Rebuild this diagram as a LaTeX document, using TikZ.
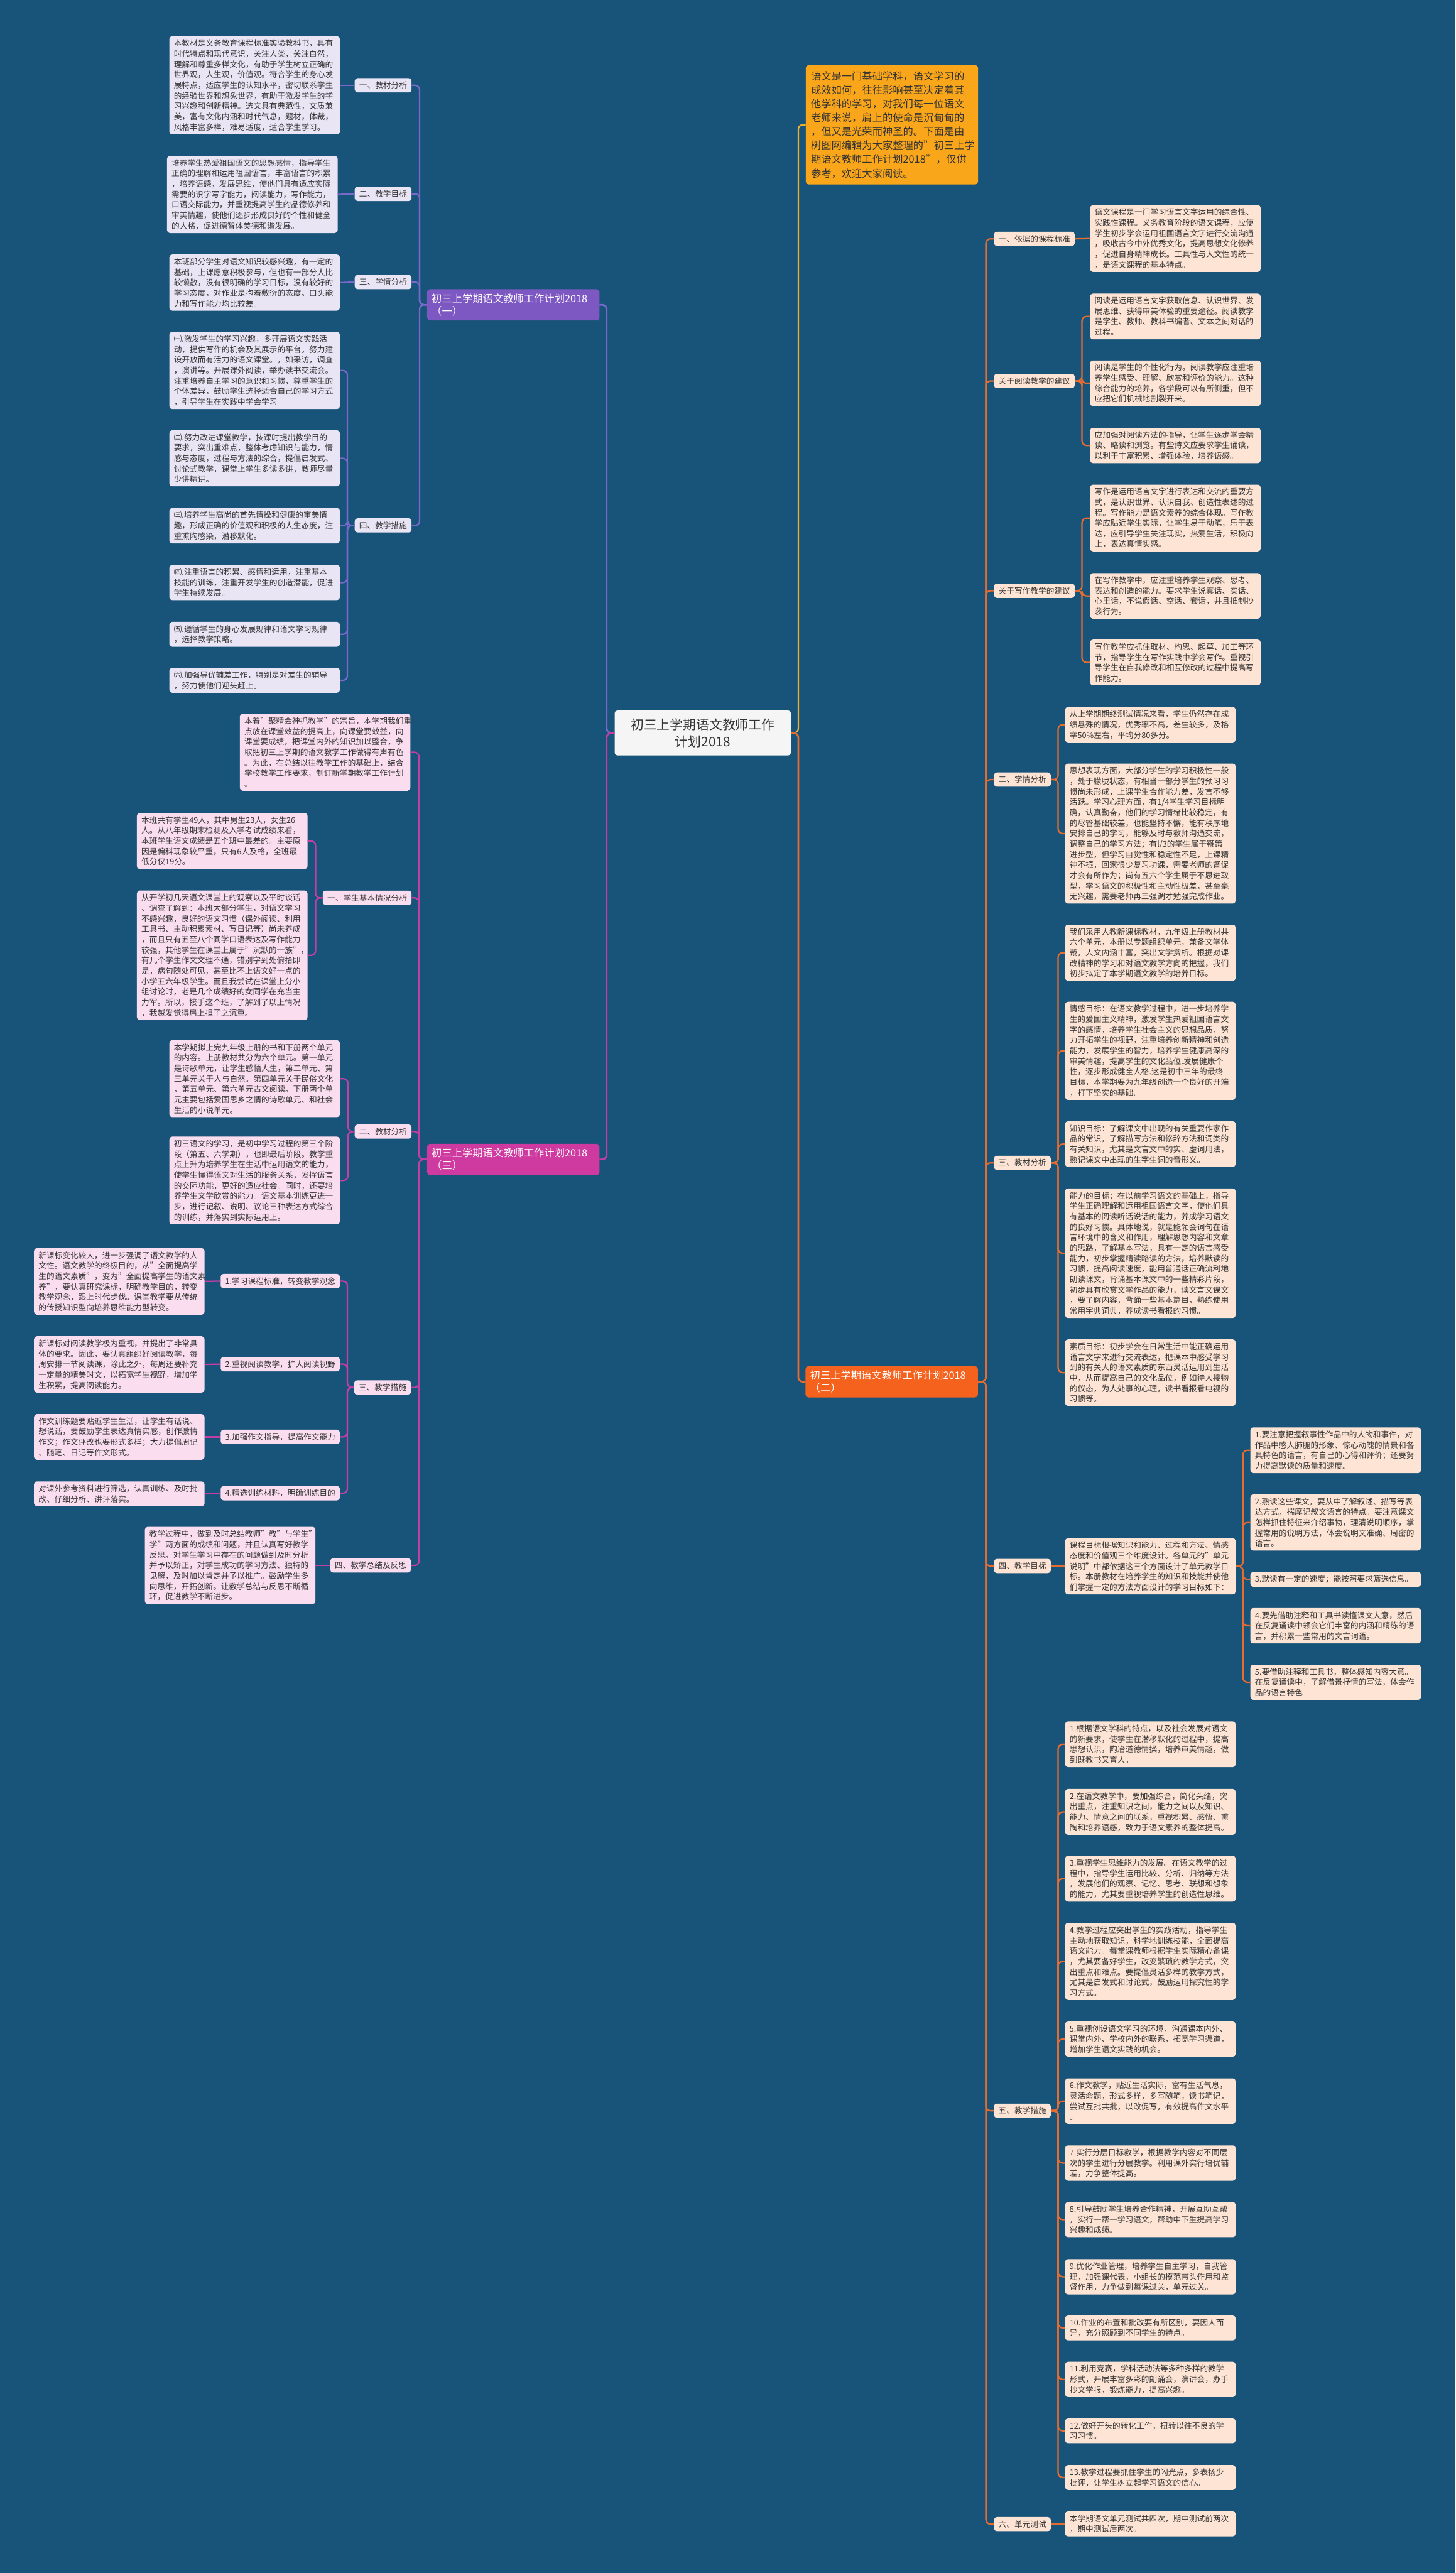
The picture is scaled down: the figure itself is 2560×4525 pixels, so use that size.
\documentclass[tikz,border=0pt]{standalone}
\usepackage{fontspec}
\setmainfont{Noto Sans CJK SC}
\usetikzlibrary{positioning}
\definecolor{bgblue}{RGB}{24,83,121}
\definecolor{inktext}{RGB}{51,51,51}
\definecolor{rootfill}{RGB}{245,245,245}
\definecolor{introfill}{RGB}{250,166,26}
\definecolor{introline}{RGB}{238,178,50}
\definecolor{lilacfill}{RGB}{233,229,245}
\definecolor{lilacline}{RGB}{122,104,204}
\definecolor{lilachead}{RGB}{126,88,194}
\definecolor{pinkfill}{RGB}{250,222,240}
\definecolor{pinkline}{RGB}{196,62,166}
\definecolor{pinkhead}{RGB}{206,58,160}
\definecolor{peachfill}{RGB}{254,228,212}
\definecolor{peachline}{RGB}{232,108,46}
\definecolor{peachhead}{RGB}{244,98,30}

\begin{document}
\begin{tikzpicture}[x=1pt, y=-1pt,
    box/.style={rounded corners=5pt, inner xsep=8pt, inner ysep=6pt, text=inktext,
      font=\fontsize{14}{18.4}\selectfont, align=left},
    sub/.style={box},
    leaf/.style={box, text width=284pt},
    head/.style={rounded corners=5pt, inner xsep=8pt, inner ysep=8pt, text=white,
      font=\fontsize{18}{22}\selectfont, align=left, text width=287pt},
    lilac/.style={fill=lilacfill},
    pinkish/.style={fill=pinkfill},
    peach/.style={fill=peachfill},
    link/.style={line width=2.5pt, rounded corners=8pt},
    plink/.style={link, draw=lilacline},
    mlink/.style={link, draw=pinkline},
    olink/.style={link, draw=peachline},
  ]
  \useasboundingbox (0,0) rectangle (2560,4525);
  \fill[bgblue] (0,0) rectangle (2560,4525);

  \node[rounded corners=5pt, fill=rootfill, text=inktext, text width=290pt, inner xsep=10pt,
    inner ysep=14pt, align=center, font=\fontsize{23}{30}\selectfont] (root) at (1236,1289)
    {初三上学期语文教师工作\\计划2018};
  \node[rounded corners=5pt, fill=introfill, text=inktext, text width=285pt, inner xsep=9pt,
    inner ysep=11pt, align=left, font=\fontsize{18}{24.4}\selectfont, anchor=west] (intro) at (1417,219.5)
    {语文是一门基础学科，语文学习的\\成效如何，往往影响甚至决定着其\\他学科的学习，对我们每一位语文\\老师来说，肩上的使命是沉甸甸的\\，但又是光荣而神圣的。下面是由\\树图网编辑为大家整理的"初三上学\\期语文教师工作计划2018"，仅供\\参考，欢迎大家阅读。};

  \node[head, fill=lilachead, anchor=west] (planA) at (751,536) {初三上学期语文教师工作计划2018\\（一）};
  \node[head, fill=pinkhead, anchor=west] (planC) at (751,2039) {初三上学期语文教师工作计划2018\\（三）};
  \node[head, fill=peachhead, anchor=east] (planB) at (1720,2430) {初三上学期语文教师工作计划2018\\（二）};

  \coordinate (xL) at (1067,0);
  \coordinate (xR) at (1404,0);
  \draw[link, draw=introline] (root.east) -- (root.east -| xR) |- (intro.west);
  \draw[olink, line width=3pt] (root.east) -- (root.east -| xR) |- (planB.west);
  \draw[plink, line width=3pt] (root.west) -- (root.west -| xL) |- (planA.east);
  \draw[mlink, line width=3pt] (root.west) -- (root.west -| xL) |- (planC.east);

  % (一)
  \node[sub, lilac, anchor=east] (a1) at (724,150) {一、教材分析};
  \node[sub, lilac, anchor=east] (a2) at (724,341) {二、教学目标};
  \node[sub, lilac, anchor=east] (a3) at (724,496) {三、学情分析};
  \node[sub, lilac, anchor=east] (a4) at (724,924) {四、教学措施};
  \node[leaf, lilac, anchor=east] (a1t) at (598,150) {本教材是义务教育课程标准实验教科书，具有\\时代特点和现代意识，关注人类，关注自然，\\理解和尊重多样文化，有助于学生树立正确的\\世界观，人生观，价值观。符合学生的身心发\\展特点，适应学生的认知水平，密切联系学生\\的经验世界和想象世界，有助于激发学生的学\\习兴趣和创新精神。选文具有典范性，文质兼\\美，富有文化内涵和时代气息，题材，体裁，\\风格丰富多样，难易适度，适合学生学习。};
  \node[leaf, lilac, anchor=east] (a2t) at (594,342) {培养学生热爱祖国语文的思想感情，指导学生\\正确的理解和运用祖国语言，丰富语言的积累\\，培养语感，发展思维，使他们具有适应实际\\需要的识字写字能力，阅读能力，写作能力，\\口语交际能力，并重视提高学生的品德修养和\\审美情趣，使他们逐步形成良好的个性和健全\\的人格，促进德智体美德和谐发展。};
  \node[leaf, lilac, anchor=east] (a3t) at (598,497) {本班部分学生对语文知识较感兴趣，有一定的\\基础，上课愿意积极参与，但也有一部分人比\\较懒散，没有很明确的学习目标，没有较好的\\学习态度，对作业是抱着敷衍的态度。口头能\\力和写作能力均比较差。};
  \node[leaf, lilac, anchor=east] (a4t1) at (598,651.5) {㈠.激发学生的学习兴趣，多开展语文实践活\\动，提供写作的机会及其展示的平台。努力建\\设开放而有活力的语文课堂。，如采访，调查\\，演讲等。开展课外阅读，举办读书交流会。\\注重培养自主学习的意识和习惯，尊重学生的\\个体差异，鼓励学生选择适合自己的学习方式\\，引导学生在实践中学会学习};
  \node[leaf, lilac, anchor=east] (a4t2) at (598,806) {㈡.努力改进课堂教学，按课时提出教学目的\\要求，突出重难点，整体考虑知识与能力，情\\感与态度，过程与方法的综合，提倡启发式、\\讨论式教学，课堂上学生多读多讲，教师尽量\\少讲精讲。};
  \node[leaf, lilac, anchor=east] (a4t3) at (598,924.5) {㈢.培养学生高尚的首先情操和健康的审美情\\趣，形成正确的价值观和积极的人生态度，注\\重熏陶感染，潜移默化。};
  \node[leaf, lilac, anchor=east] (a4t4) at (598,1024.5) {㈣.注重语言的积累、感情和运用，注重基本\\技能的训练，注重开发学生的创造潜能，促进\\学生持续发展。};
  \node[leaf, lilac, anchor=east] (a4t5) at (598,1115.5) {㈤.遵循学生的身心发展规律和语文学习规律\\，选择教学策略。};
  \node[leaf, lilac, anchor=east] (a4t6) at (598,1196.5) {㈥.加强导优辅差工作，特别是对差生的辅导\\，努力使他们迎头赶上。};

  \coordinate (xA) at (738,0);
  \coordinate (xA4) at (611,0);
  \foreach \c in {a1,a2,a3,a4}
    \draw[plink] (planA.west) -- (planA.west -| xA) |- (\c.east);
  \draw[plink] (a1.west) -- (a1t.east);
  \draw[plink] (a2.west) -- (a2t.east);
  \draw[plink] (a3.west) -- (a3t.east);
  \foreach \c in {a4t1,a4t2,a4t3,a4t4,a4t5,a4t6}
    \draw[plink] (a4.west) -- (a4.west -| xA4) |- (\c.east);

  % (三)
  \node[leaf, pinkish, anchor=east] (c0) at (722,1323) {本着"聚精会神抓教学"的宗旨，本学期我们重\\点放在课堂效益的提高上，向课堂要效益，向\\课堂要成绩，把课堂内外的知识加以整合，争\\取把初三上学期的语文教学工作做得有声有色\\。为此，在总结以往教学工作的基础上，结合\\学校教学工作要求，制订新学期教学工作计划\\。};
  \node[sub, pinkish, anchor=east] (c1) at (724,1579) {一、学生基本情况分析};
  \node[leaf, pinkish, anchor=east] (c1t1) at (541,1479) {本班共有学生49人，其中男生23人，女生26\\人。从八年级期末检测及入学考试成绩来看，\\本班学生语文成绩是五个班中最差的。主要原\\因是偏科现象较严重，只有6人及格，全班最\\低分仅19分。};
  \node[leaf, pinkish, anchor=east] (c1t2) at (541,1680) {从开学初几天语文课堂上的观察以及平时谈话\\、调查了解到：本班大部分学生，对语文学习\\不感兴趣，良好的语文习惯（课外阅读、利用\\工具书、主动积累素材、写日记等）尚未养成\\，而且只有五至八个同学口语表达及写作能力\\较强，其他学生在课堂上属于"沉默的一族"，\\有几个学生作文文理不通，错别字到处俯拾即\\是，病句随处可见，甚至比不上语文好一点的\\小学五六年级学生。而且我尝试在课堂上分小\\组讨论时，老是几个成绩好的女同学在充当主\\力军。所以，接手这个班，了解到了以上情况\\，我越发觉得肩上担子之沉重。};
  \node[sub, pinkish, anchor=east] (c2) at (724,1990) {二、教材分析};
  \node[leaf, pinkish, anchor=east] (c2t1) at (598,1897) {本学期拟上完九年级上册的书和下册两个单元\\的内容。上册教材共分为六个单元。第一单元\\是诗歌单元，让学生感悟人生，第二单元、第\\三单元关于人与自然。第四单元关于民俗文化\\，第五单元、第六单元古文阅读。下册两个单\\元主要包括爱国思乡之情的诗歌单元、和社会\\生活的小说单元。};
  \node[leaf, pinkish, anchor=east] (c2t2) at (598,2076) {初三语文的学习，是初中学习过程的第三个阶\\段（第五、六学期），也即最后阶段。教学重\\点上升为培养学生在生活中运用语文的能力，\\使学生懂得语文对生活的服务关系，发挥语言\\的交际功能，更好的适应社会。同时，还要培\\养学生文学欣赏的能力。语文基本训练更进一\\步，进行记叙、说明、议论三种表达方式综合\\的训练，并落实到实际运用上。};
  \node[sub, pinkish, anchor=east] (c3) at (723,2440) {三、教学措施};
  \node[sub, pinkish, anchor=east] (c3s1) at (598,2253) {1.学习课程标准，转变教学观念};
  \node[sub, pinkish, anchor=east] (c3s2) at (598,2399) {2.重视阅读教学，扩大阅读视野};
  \node[sub, pinkish, anchor=east] (c3s3) at (598,2527) {3.加强作文指导，提高作文能力};
  \node[sub, pinkish, anchor=east] (c3s4) at (598,2626) {4.精选训练材料，明确训练目的};
  \node[leaf, pinkish, anchor=east] (c3t1) at (360,2253.5) {新课标变化较大，进一步强调了语文教学的人\\文性。语文教学的终极目的，从"全面提高学\\生的语文素质"，变为"全面提高学生的语文素\\养"，要认真研究课标，明确教学目的，转变\\教学观念，跟上时代步伐。课堂教学要从传统\\的传授知识型向培养思维能力型转变。};
  \node[leaf, pinkish, anchor=east] (c3t2) at (360,2399.5) {新课标对阅读教学极为重视，并提出了非常具\\体的要求。因此，要认真组织好阅读教学，每\\周安排一节阅读课，除此之外，每周还要补充\\一定量的精美时文，以拓宽学生视野，增加学\\生积累，提高阅读能力。};
  \node[leaf, pinkish, anchor=east] (c3t3) at (360,2527) {作文训练题要贴近学生生活，让学生有话说、\\想说话，要鼓励学生表达真情实感，创作激情\\作文；作文评改也要形式多样；大力提倡周记\\、随笔、日记等作文形式。};
  \node[leaf, pinkish, anchor=east] (c3t4) at (360,2627) {对课外参考资料进行筛选，认真训练、及时批\\改、仔细分析、讲评落实。};
  \node[sub, pinkish, anchor=east] (c4) at (723,2753) {四、教学总结及反思};
  \node[leaf, pinkish, anchor=east] (c4t) at (555,2753) {教学过程中，做到及时总结教师"教"与学生"\\学"两方面的成绩和问题，并且认真写好教学\\反思。对学生学习中存在的问题做到及时分析\\并予以矫正，对学生成功的学习方法、独特的\\见解，及时加以肯定并予以推广。鼓励学生多\\向思维，开拓创新。让教学总结与反思不断循\\环，促进教学不断进步。};

  \coordinate (xC) at (737,0);
  \coordinate (xC1) at (555,0);
  \coordinate (xC2) at (612,0);
  \coordinate (xC3) at (611,0);
  \foreach \c in {c0,c1,c2,c3,c4}
    \draw[mlink] (planC.west) -- (planC.west -| xC) |- (\c.east);
  \foreach \c in {c1t1,c1t2}
    \draw[mlink] (c1.west) -- (c1.west -| xC1) |- (\c.east);
  \foreach \c in {c2t1,c2t2}
    \draw[mlink] (c2.west) -- (c2.west -| xC2) |- (\c.east);
  \foreach \c in {c3s1,c3s2,c3s3,c3s4}
    \draw[mlink] (c3.west) -- (c3.west -| xC3) |- (\c.east);
  \foreach \i in {1,2,3,4}
    \draw[mlink] (c3s\i.west) -- (c3t\i.east);
  \draw[mlink] (c4.west) -- (c4t.east);

  % (二)
  \node[sub, peach, anchor=west] (b1) at (1748,420) {一、依据的课程标准};
  \node[sub, peach, anchor=west] (b2) at (1748,670) {关于阅读教学的建议};
  \node[sub, peach, anchor=west] (b3) at (1748,1039) {关于写作教学的建议};
  \node[sub, peach, anchor=west] (b4) at (1748,1371) {二、学情分析};
  \node[sub, peach, anchor=west] (b5) at (1748,2045) {三、教材分析};
  \node[sub, peach, anchor=west] (b6) at (1748,2754) {四、教学目标};
  \node[sub, peach, anchor=west] (b7) at (1748,3712) {五、教学措施};
  \node[sub, peach, anchor=west] (b8) at (1748,4439) {六、单元测试};

  \node[leaf, peach, anchor=west] (b1t) at (1917,419.5) {语文课程是一门学习语言文字运用的综合性、\\实践性课程。义务教育阶段的语文课程，应使\\学生初步学会运用祖国语言文字进行交流沟通\\，吸收古今中外优秀文化，提高思想文化修养\\，促进自身精神成长。工具性与人文性的统一\\，是语文课程的基本特点。};
  \node[leaf, peach, anchor=west] (b2t1) at (1917,556.5) {阅读是运用语言文字获取信息、认识世界、发\\展思维、获得审美体验的重要途径。阅读教学\\是学生、教师、教科书编者、文本之间对话的\\过程。};
  \node[leaf, peach, anchor=west] (b2t2) at (1917,674) {阅读是学生的个性化行为。阅读教学应注重培\\养学生感受、理解、欣赏和评价的能力。这种\\综合能力的培养，各学段可以有所侧重，但不\\应把它们机械地割裂开来。};
  \node[leaf, peach, anchor=west] (b2t3) at (1917,783.5) {应加强对阅读方法的指导，让学生逐步学会精\\读、略读和浏览。有些诗文应要求学生诵读，\\以利于丰富积累、增强体验，培养语感。};
  \node[leaf, peach, anchor=west] (b3t1) at (1917,911) {写作是运用语言文字进行表达和交流的重要方\\式，是认识世界、认识自我、创造性表述的过\\程。写作能力是语文素养的综合体现。写作教\\学应贴近学生实际，让学生易于动笔，乐于表\\达，应引导学生关注现实，热爱生活，积极向\\上，表达真情实感。};
  \node[leaf, peach, anchor=west] (b3t2) at (1917,1048) {在写作教学中，应注重培养学生观察、思考、\\表达和创造的能力。要求学生说真话、实话、\\心里话，不说假话、空话、套话，并且抵制抄\\袭行为。};
  \node[leaf, peach, anchor=west] (b3t3) at (1917,1165) {写作教学应抓住取材、构思、起草、加工等环\\节，指导学生在写作实践中学会写作。重视引\\导学生在自我修改和相互修改的过程中提高写\\作能力。};
  \node[leaf, peach, anchor=west] (b4t1) at (1873,1274.5) {从上学期期终测试情况来看，学生仍然存在成\\绩悬殊的情况，优秀率不高，差生较多，及格\\率50\%左右，平均分80多分。};
  \node[leaf, peach, anchor=west] (b4t2) at (1873,1466) {思想表现方面，大部分学生的学习积极性一般\\，处于朦胧状态，有相当一部分学生的预习习\\惯尚未形成，上课学生合作能力差，发言不够\\活跃。学习心理方面，有1/4学生学习目标明\\确，认真勤奋，他们的学习情绪比较稳定，有\\的尽管基础较差，也能坚持不懈，能有秩序地\\安排自己的学习，能够及时与教师沟通交流，\\调整自己的学习方法；有l/3的学生属于鞭策\\进步型，但学习自觉性和稳定性不足，上课精\\神不振，回家很少复习功课，需要老师的督促\\才会有所作为；尚有五六个学生属于不思进取\\型，学习语文的积极性和主动性极差，甚至毫\\无兴趣，需要老师再三强调才勉强完成作业。};
  \node[leaf, peach, anchor=west] (b5t1) at (1873,1675.5) {我们采用人教新课标教材，九年级上册教材共\\六个单元，本册以专题组织单元，兼备文学体\\裁，人文内涵丰富，突出文学赏析。根据对课\\改精神的学习和对语文教学方向的把握，我们\\初步拟定了本学期语文教学的培养目标。};
  \node[leaf, peach, anchor=west] (b5t2) at (1873,1848) {情感目标：在语文教学过程中，进一步培养学\\生的爱国主义精神，激发学生热爱祖国语言文\\字的感情，培养学生社会主义的思想品质，努\\力开拓学生的视野，注重培养创新精神和创造\\能力，发展学生的智力，培养学生健康高深的\\审美情趣，提高学生的文化品位.发展健康个\\性，逐步形成健全人格.这是初中三年的最终\\目标，本学期要为九年级创造一个良好的开端\\，打下坚实的基础.};
  \node[leaf, peach, anchor=west] (b5t3) at (1873,2012) {知识目标：了解课文中出现的有关重要作家作\\品的常识，了解描写方法和修辞方法和词类的\\有关知识，尤其是文言文中的实、虚词用法，\\熟记课文中出现的生字生词的音形义。};
  \node[leaf, peach, anchor=west] (b5t4) at (1873,2204) {能力的目标：在以前学习语文的基础上，指导\\学生正确理解和运用祖国语言文字，使他们具\\有基本的阅读听话说话的能力，养成学习语文\\的良好习惯。具体地说，就是能领会词句在语\\言环境中的含义和作用，理解思想内容和文章\\的思路，了解基本写法，具有一定的语言感受\\能力，初步掌握精读略读的方法，培养默读的\\习惯，提高阅读速度，能用普通话正确流利地\\朗读课文，背诵基本课文中的一些精彩片段，\\初步具有欣赏文学作品的能力，读文言文课文\\，要了解内容，背诵一些基本篇目，熟练使用\\常用字典词典，养成读书看报的习惯。};
  \node[leaf, peach, anchor=west] (b5t5) at (1873,2414) {素质目标：初步学会在日常生活中能正确运用\\语言文字来进行交流表达，把课本中感受学习\\到的有关人的语文素质的东西灵活运用到生活\\中，从而提高自己的文化品位，例如待人接物\\的仪态，为人处事的心理，读书看报看电视的\\习惯等。};
  \node[leaf, peach, anchor=west] (b6t) at (1873,2754.5) {课程目标根据知识和能力、过程和方法、情感\\态度和价值观三个维度设计。各单元的"单元\\说明"中都依据这三个方面设计了单元教学目\\标。本册教材在培养学生的知识和技能并使他\\们掌握一定的方法方面设计的学习目标如下：};
  \node[leaf, peach, anchor=west] (b6g1) at (2199,2550.5) {1.要注意把握叙事性作品中的人物和事件，对\\作品中感人肺腑的形象、惊心动魄的情景和各\\具特色的语言，有自己的心得和评价；还要努\\力提高默读的质量和速度。};
  \node[leaf, peach, anchor=west] (b6g2) at (2199,2677.5) {2.熟读这些课文，要从中了解叙述、描写等表\\达方式，揣摩记叙文语言的特点。要注意课文\\怎样抓住特征来介绍事物，理清说明顺序，掌\\握常用的说明方法，体会说明文准确、周密的\\语言。};
  \node[leaf, peach, anchor=west] (b6g3) at (2199,2777.5) {3.默读有一定的速度；能按照要求筛选信息。};
  \node[leaf, peach, anchor=west] (b6g4) at (2199,2859) {4.要先借助注释和工具书读懂课文大意，然后\\在反复诵读中领会它们丰富的内涵和精练的语\\言，并积累一些常用的文言词语。};
  \node[leaf, peach, anchor=west] (b6g5) at (2199,2958.5) {5.要借助注释和工具书，整体感知内容大意。\\在反复诵读中，了解借景抒情的写法，体会作\\品的语言特色};
  \node[leaf, peach, anchor=west] (b7t1) at (1873,3067.5) {1.根据语文学科的特点，以及社会发展对语文\\的新要求，使学生在潜移默化的过程中，提高\\思想认识，陶冶道德情操，培养审美情趣，做\\到既教书又育人。};
  \node[leaf, peach, anchor=west] (b7t2) at (1873,3186.5) {2.在语文教学中，要加强综合，简化头绪，突\\出重点，注重知识之间，能力之间以及知识、\\能力、情意之间的联系，重视积累、感悟、熏\\陶和培养语感，致力于语文素养的整体提高。};
  \node[leaf, peach, anchor=west] (b7t3) at (1873,3304) {3.重视学生思维能力的发展。在语文教学的过\\程中，指导学生运用比较、分析、归纳等方法\\，发展他们的观察、记忆、思考、联想和想象\\的能力，尤其要重视培养学生的创造性思维。};
  \node[leaf, peach, anchor=west] (b7t4) at (1873,3449.5) {4.教学过程应突出学生的实践活动，指导学生\\主动地获取知识，科学地训练技能，全面提高\\语文能力。每堂课教师根据学生实际精心备课\\，尤其要备好学生，改变繁琐的教学方式，突\\出重点和难点。要提倡灵活多样的教学方式，\\尤其是启发式和讨论式，鼓励运用探究性的学\\习方式。};
  \node[leaf, peach, anchor=west] (b7t5) at (1873,3586) {5.重视创设语文学习的环境，沟通课本内外、\\课堂内外、学校内外的联系，拓宽学习渠道，\\增加学生语文实践的机会。};
  \node[leaf, peach, anchor=west] (b7t6) at (1873,3695) {6.作文教学，贴近生活实际，富有生活气息，\\灵活命题，形式多样，多写随笔，读书笔记，\\尝试互批共批，以改促写，有效提高作文水平\\。};
  \node[leaf, peach, anchor=west] (b7t7) at (1873,3804) {7.实行分层目标教学，根据教学内容对不同层\\次的学生进行分层教学。利用课外实行培优辅\\差，力争整体提高。};
  \node[leaf, peach, anchor=west] (b7t8) at (1873,3903.5) {8.引导鼓励学生培养合作精神，开展互助互帮\\，实行一帮一学习语文，帮助中下生提高学习\\兴趣和成绩。};
  \node[leaf, peach, anchor=west] (b7t9) at (1873,4004) {9.优化作业管理，培养学生自主学习，自我管\\理，加强课代表，小组长的模范带头作用和监\\督作用，力争做到每课过关，单元过关。};
  \node[leaf, peach, anchor=west] (b7t10) at (1873,4094) {10.作业的布置和批改要有所区别，要因人而\\异，充分照顾到不同学生的特点。};
  \node[leaf, peach, anchor=west] (b7t11) at (1873,4184.5) {11.利用竞赛，学科活动法等多种多样的教学\\形式，开展丰富多彩的朗诵会，演讲会，办手\\抄文学报，锻炼能力，提高兴趣。};
  \node[leaf, peach, anchor=west] (b7t12) at (1873,4275) {12.做好开头的转化工作，扭转以往不良的学\\习习惯。};
  \node[leaf, peach, anchor=west] (b7t13) at (1873,4357) {13.教学过程要抓住学生的闪光点，多表扬少\\批评，让学生树立起学习语文的信心。};
  \node[leaf, peach, anchor=west] (b8t) at (1873,4438.5) {本学期语文单元测试共四次，期中测试前两次\\，期中测试后两次。};

  \coordinate (xB) at (1734,0);
  \coordinate (xB1) at (1903,0);
  \coordinate (xB4) at (1861,0);
  \coordinate (xB6) at (2186,0);
  \foreach \c in {b1,b2,b3,b4,b5,b6,b7,b8}
    \draw[olink] (planB.east) -- (planB.east -| xB) |- (\c.west);
  \draw[olink] (b1.east) -- (b1t.west);
  \foreach \c in {b2t1,b2t2,b2t3}
    \draw[olink] (b2.east) -- (b2.east -| xB1) |- (\c.west);
  \foreach \c in {b3t1,b3t2,b3t3}
    \draw[olink] (b3.east) -- (b3.east -| xB1) |- (\c.west);
  \foreach \c in {b4t1,b4t2}
    \draw[olink] (b4.east) -- (b4.east -| xB4) |- (\c.west);
  \foreach \c in {b5t1,b5t2,b5t3,b5t4,b5t5}
    \draw[olink] (b5.east) -- (b5.east -| xB4) |- (\c.west);
  \draw[olink] (b6.east) -- (b6t.west);
  \foreach \c in {b6g1,b6g2,b6g3,b6g4,b6g5}
    \draw[olink] (b6t.east) -- (b6t.east -| xB6) |- (\c.west);
  \foreach \i in {1,...,13}
    \draw[olink] (b7.east) -- (b7.east -| xB4) |- (b7t\i.west);
  \draw[olink] (b8.east) -- (b8t.west);
\end{tikzpicture}
\end{document}
